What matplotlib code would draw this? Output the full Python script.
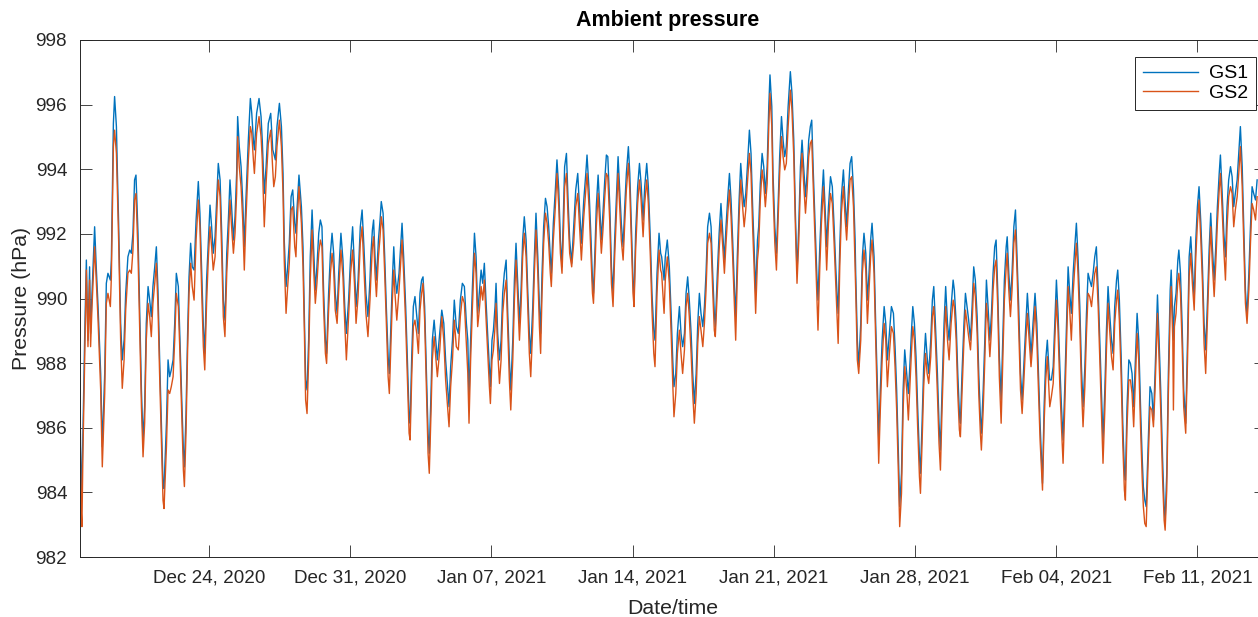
import numpy as np
import pandas as pd
import matplotlib
matplotlib.use("Agg")
import matplotlib.pyplot as plt
import matplotlib.dates as mdates

"Time of each reading, in days after 17 Dec 2020 00:00"
t_days = [
    0.59, 0.67, 0.70, 0.75, 0.84, 0.92, 1.00, 1.08, 1.13, 1.20, 1.33, 1.41, 1.50, 1.63, 1.71, 1.83, 1.91, 1.99, 2.11, 2.16,
    2.26, 2.32, 2.41, 2.46, 2.52, 2.62, 2.70, 2.79, 2.87, 2.98, 3.07, 3.15, 3.23, 3.31, 3.38, 3.48, 3.56, 3.65, 3.73, 3.81,
    3.89, 3.98, 4.06, 4.14, 4.22, 4.31, 4.39, 4.47, 4.55, 4.64, 4.72, 4.77, 4.89, 4.97, 5.05, 5.13, 5.22, 5.30, 5.38,
    5.48, 5.56, 5.65, 5.73, 5.78, 5.86, 5.94, 6.01, 6.09, 6.17, 6.26, 6.36, 6.47, 6.55, 6.64, 6.72, 6.79, 6.88, 6.97, 7.05,
    7.13, 7.21, 7.30, 7.38, 7.46, 7.55, 7.63, 7.71, 7.79, 7.88, 7.96, 8.04, 8.12, 8.21, 8.29, 8.37, 8.42, 8.50, 8.59, 8.67,
    8.75, 8.83, 8.95, 9.05, 9.12, 9.20, 9.25, 9.36, 9.48, 9.58, 9.64, 9.74, 9.83, 9.94, 10.06, 10.16,
    10.21, 10.29, 10.37, 10.49, 10.59, 10.67, 10.73, 10.82, 10.90, 10.98, 11.07, 11.15, 11.25, 11.31, 11.36, 11.46, 11.58, 11.66, 11.73, 11.79,
    11.86, 11.94, 12.02, 12.11, 12.19, 12.27, 12.35, 12.44, 12.52, 12.60, 12.68, 12.77, 12.83, 12.93, 13.02, 13.10, 13.18, 13.26, 13.35, 13.43,
    13.54, 13.64, 13.73, 13.81, 13.92, 14.02, 14.12, 14.21, 14.29, 14.39, 14.50, 14.59, 14.68, 14.78, 14.88, 14.98,
    15.02, 15.10, 15.16, 15.23, 15.30, 15.40, 15.48, 15.54, 15.63, 15.71, 15.79, 15.88, 15.94, 16.02, 16.09, 16.16, 16.22, 16.31, 16.42, 16.50,
    16.57, 16.65, 16.75, 16.83, 16.92, 16.97, 17.05, 17.13, 17.21, 17.30, 17.38, 17.46, 17.54, 17.61, 17.69, 17.78, 17.86, 17.92, 18.01, 18.07,
    18.16, 18.24, 18.32, 18.44, 18.54, 18.64, 18.73, 18.83, 18.90, 18.98, 19.07, 19.16, 19.26, 19.36, 19.46, 19.56, 19.66, 19.76,
    19.83, 19.89, 19.97, 20.06, 20.16, 20.24, 20.32, 20.40, 20.49, 20.57, 20.65, 20.73, 20.82, 20.90, 20.95, 21.03, 21.10, 21.18, 21.23, 21.31,
    21.40, 21.48, 21.56, 21.64, 21.73, 21.81, 21.89, 21.96, 22.06, 22.14, 22.22, 22.30, 22.39, 22.47, 22.55, 22.63, 22.72, 22.80, 22.88, 22.95,
    23.05, 23.13, 23.21, 23.30, 23.38, 23.44, 23.51, 23.59, 23.68, 23.76, 23.84, 23.92, 23.97, 24.07, 24.17, 24.25, 24.34, 24.42, 24.50, 24.58,
    24.63, 24.72, 24.80, 24.88, 24.98, 25.08, 25.18, 25.28, 25.38, 25.46, 25.58, 25.68, 25.74, 25.84, 25.94, 26.01, 26.06, 26.14, 26.20, 26.29,
    26.37, 26.45, 26.53, 26.62, 26.70, 26.77, 26.87, 26.95, 27.03, 27.11, 27.20, 27.28, 27.36, 27.44, 27.53, 27.61, 27.69, 27.79, 27.86, 27.94,
    28.02, 28.07, 28.15, 28.25, 28.34, 28.42, 28.52, 28.60, 28.70, 28.78, 28.88, 28.96, 29.05, 29.11, 29.21, 29.31, 29.39,
    29.44, 29.56, 29.62, 29.72, 29.82, 29.91, 29.99, 30.05, 30.14, 30.22, 30.32, 30.40, 30.48, 30.57, 30.65, 30.73, 30.81, 30.90, 30.98, 31.06,
    31.15, 31.23, 31.31, 31.39, 31.48, 31.56, 31.64, 31.72, 31.81, 31.89, 31.97, 32.05, 32.10, 32.20, 32.29, 32.38, 32.47, 32.55, 32.63, 32.72,
    32.80, 32.88, 32.96, 33.05, 33.11, 33.19, 33.28, 33.36, 33.44, 33.53, 33.61, 33.69, 33.79, 33.87, 33.95, 34.04, 34.10, 34.19,
    34.25, 34.33, 34.42, 34.50, 34.58, 34.67, 34.75, 34.81, 34.90, 34.96, 35.05, 35.13, 35.21, 35.29, 35.38, 35.46, 35.54, 35.62, 35.71, 35.82,
    35.90, 35.99, 36.07, 36.15, 36.24, 36.32, 36.40, 36.48, 36.57, 36.65, 36.73, 36.81, 36.88, 36.96, 37.05, 37.13, 37.19, 37.28, 37.36, 37.46,
    37.54, 37.62, 37.71, 37.81, 37.90, 37.99, 38.07, 38.14, 38.19, 38.27, 38.35, 38.45, 38.53, 38.61, 38.70, 38.78, 38.86, 38.95, 39.03,
    39.06, 39.14, 39.21, 39.31, 39.39, 39.47, 39.56, 39.64, 39.72, 39.80, 39.87, 39.97, 40.05, 40.14, 40.20, 40.28, 40.37, 40.47, 40.55, 40.63,
    40.73, 40.83, 40.93, 41.01, 41.09, 41.18, 41.24, 41.33, 41.41, 41.49, 41.59, 41.67, 41.75, 41.82, 41.89, 41.97, 42.05, 42.13, 42.22, 42.27,
    42.35, 42.43, 42.52, 42.60, 42.68, 42.78, 42.86, 42.93, 43.01, 43.11, 43.19, 43.26, 43.34, 43.44, 43.52, 43.61, 43.69, 43.79, 43.89,
    43.95, 44.04, 44.12, 44.20, 44.25, 44.33, 44.42, 44.50, 44.58, 44.66, 44.75, 44.83, 44.91, 44.99, 45.08, 45.16, 45.24, 45.29, 45.38, 45.46,
    45.54, 45.62, 45.71, 45.79, 45.87, 45.95, 46.02, 46.10, 46.18, 46.27, 46.35, 46.43, 46.52, 46.57, 46.65, 46.73, 46.81, 46.90, 46.98, 47.06,
    47.14, 47.23, 47.31, 47.39, 47.47, 47.57, 47.66, 47.75, 47.85, 47.95, 48.04, 48.12, 48.20, 48.27, 48.32, 48.40, 48.48, 48.56, 48.65,
    48.68, 48.76, 48.85, 48.93, 49.01, 49.09, 49.18, 49.26, 49.34, 49.42, 49.51, 49.59, 49.67, 49.75, 49.84, 49.92, 50.00, 50.08, 50.17, 50.25,
    50.33, 50.42, 50.50, 50.58, 50.66, 50.75, 50.83, 50.91, 50.99, 51.08, 51.16, 51.24, 51.32, 51.41, 51.49, 51.57, 51.65, 51.74, 51.82, 51.90,
    51.99, 52.05, 52.13, 52.22, 52.30, 52.38, 52.43, 52.51, 52.60, 52.68, 52.76, 52.84, 52.93, 53.01, 53.09, 53.18, 53.26, 53.32, 53.39,
    53.46, 53.54, 53.65, 53.74, 53.82, 53.90, 54.02, 54.10, 54.18, 54.27, 54.35, 54.40, 54.48, 54.56, 54.65, 54.70, 54.78, 54.81, 54.86, 54.94,
    55.03, 55.08, 55.16, 55.24, 55.32, 55.42, 55.51, 55.59, 55.67, 55.75, 55.84, 55.92, 56.00, 56.08, 56.17, 56.25, 56.33, 56.41, 56.50, 56.58,
    56.66, 56.74, 56.83, 56.91, 56.99, 57.08, 57.14, 57.22, 57.31, 57.39, 57.47, 57.55, 57.64, 57.72, 57.80, 57.88, 57.97, 58.05, 58.13, 58.22,
    58.30, 58.38, 58.46, 58.55, 58.63, 58.71, 58.79, 58.88, 58.96,
]

"Ambient pressure of GS1 [hPa]"
gs1 = [
    987.37, 983.87, 984.28, 985.83, 988.92, 991.19, 988.71, 990.98, 988.92, 990.16, 992.22, 990.98, 989.75, 987.68, 985.41, 987.68, 990.47, 990.78, 990.57, 991.19,
    995.42, 996.25, 995.32, 993.87, 992.33, 989.23, 988.10, 988.71, 990.16, 991.29, 991.50, 991.40, 992.02, 993.67, 993.82, 992.02, 989.75, 987.17, 985.62, 986.65,
    989.23, 990.37, 989.95, 989.44, 990.37, 990.98, 991.60, 990.26, 988.20, 986.14, 984.28, 984.12, 986.14, 988.10, 987.58, 987.79, 988.10, 989.23, 990.78,
    990.37, 988.71, 986.86, 985.31, 984.79, 986.44, 988.92, 990.67, 991.71, 990.98, 990.88, 992.43, 993.62, 992.64, 990.78, 989.13, 988.30, 990.57, 991.81, 992.89,
    992.22, 991.40, 991.91, 993.05, 994.18, 993.67, 992.02, 989.95, 989.33, 991.40, 992.43, 993.67, 992.84, 991.81, 992.53, 993.87, 995.63, 994.70, 994.08, 993.05,
    991.60, 993.05, 994.90, 996.19, 995.73, 994.90, 994.60, 995.73, 996.19, 995.63, 994.90, 993.25, 994.08, 995.42, 995.73, 994.60,
    994.49, 994.29, 995.32, 996.04, 995.32, 993.87, 991.81, 990.37, 990.98, 991.71, 993.15, 993.36, 992.33, 992.02, 992.74, 993.82, 992.84, 991.60, 989.44, 987.48,
    987.17, 988.71, 991.29, 992.74, 991.50, 990.26, 990.98, 992.02, 992.43, 992.22, 990.26, 988.71, 988.30, 990.16, 991.40, 992.02, 991.40, 990.16, 989.54, 990.78,
    992.02, 991.19, 989.75, 988.92, 989.95, 991.29, 992.22, 990.98, 989.75, 990.57, 992.22, 992.74, 991.60, 990.16, 989.44, 990.57,
    991.29, 992.12, 992.43, 991.29, 990.57, 991.81, 992.43, 993.00, 992.64, 991.29, 989.75, 988.20, 987.68, 989.23, 990.57, 991.60, 990.78, 990.16, 990.78, 991.60,
    992.33, 991.29, 989.75, 988.20, 986.34, 986.14, 988.20, 989.75, 990.06, 989.44, 988.92, 990.16, 990.57, 990.67, 989.75, 987.68, 985.83, 985.21, 987.17, 988.71,
    989.33, 988.71, 988.10, 988.92, 989.64, 989.23, 988.10, 987.27, 986.65, 987.89, 988.71, 989.95, 989.13, 988.92, 989.95, 990.47, 990.37, 989.23,
    988.71, 986.86, 988.71, 990.37, 992.02, 991.29, 989.54, 990.16, 990.88, 990.47, 991.09, 989.95, 988.82, 987.89, 987.27, 988.71, 989.02, 989.75, 990.47, 988.92,
    988.10, 988.71, 990.16, 990.78, 991.19, 989.54, 988.10, 987.17, 988.71, 990.57, 991.71, 990.57, 989.23, 990.26, 991.81, 992.53, 991.81, 990.26, 988.92, 988.30,
    989.75, 991.29, 992.64, 991.29, 989.75, 988.92, 990.78, 992.22, 993.10, 992.84, 992.22, 991.29, 990.78, 992.33, 993.36, 994.29, 993.36, 991.81, 990.98, 992.84,
    994.08, 994.49, 993.05, 991.81, 991.09, 992.22, 993.36, 993.87, 992.64, 991.71, 993.05, 993.87, 994.44, 993.36, 991.81, 990.57, 990.16, 991.60, 992.84, 993.82,
    992.84, 991.81, 992.64, 993.67, 994.44, 994.39, 992.84, 990.98, 990.16, 991.81, 993.15, 994.39, 993.36, 992.33, 991.60, 992.84, 993.87, 994.70, 993.87, 992.22,
    990.57, 989.95, 992.02, 993.46, 994.18, 993.56, 992.43, 993.46, 994.18, 993.46, 991.81, 990.16, 989.02, 988.71, 990.78, 992.02, 991.40,
    991.29, 990.57, 991.29, 991.81, 990.98, 989.54, 988.10, 987.27, 987.68, 988.92, 989.75, 988.92, 988.51, 988.92, 990.16, 990.67, 989.95, 988.92, 987.68, 986.75,
    987.68, 989.23, 990.16, 989.54, 989.13, 989.75, 990.78, 992.22, 992.64, 992.22, 990.78, 989.54, 989.13, 990.78, 992.02, 992.94, 992.02, 991.19, 992.22, 993.15,
    993.87, 993.05, 991.81, 990.26, 989.44, 991.29, 993.05, 994.18, 993.46, 992.84, 993.25, 994.08, 995.21, 994.49, 992.84, 991.29, 990.16, 991.81,
    992.22, 993.56, 994.49, 994.08, 993.25, 994.08, 995.94, 996.92, 995.94, 993.87, 992.22, 991.40, 992.84, 994.39, 995.63, 994.90, 994.39, 994.70, 995.94, 997.02,
    996.35, 994.90, 992.64, 990.78, 992.33, 994.08, 994.90, 994.08, 993.15, 993.87, 994.90, 995.32, 995.52, 993.87, 992.22, 990.78, 989.95, 991.60, 992.84, 993.98,
    992.84, 991.60, 992.84, 993.77, 993.46, 992.22, 990.98, 990.06, 989.54, 991.60, 993.15, 993.98, 993.05, 992.22, 993.36, 994.18, 994.39, 993.36, 991.81,
    990.78, 988.71, 987.89, 989.23, 991.29, 992.02, 991.40, 989.95, 990.78, 991.81, 992.33, 991.29, 989.23, 987.17, 985.62, 987.17, 988.71, 989.75, 989.23, 988.10,
    988.92, 989.75, 989.54, 988.51, 987.17, 985.10, 983.56, 984.59, 987.17, 988.41, 987.68, 987.06, 987.99, 988.92, 989.75, 989.23, 988.20, 986.65, 985.10, 984.59,
    986.14, 987.89, 988.92, 988.20, 987.68, 988.71, 989.95, 990.37, 989.23, 987.68, 986.14, 985.31, 987.17, 989.23, 990.37, 989.23, 988.71, 989.75, 990.57,
    990.26, 989.23, 987.68, 986.44, 986.14, 987.68, 989.13, 990.16, 989.75, 989.33, 988.71, 989.75, 990.98, 990.57, 989.44, 987.68, 986.34, 985.83, 987.17, 988.71,
    990.57, 989.75, 988.71, 989.54, 990.78, 991.60, 991.81, 990.26, 988.20, 986.86, 988.71, 990.57, 991.60, 991.91, 990.78, 989.95, 990.78, 992.22, 992.74, 991.29,
    989.75, 987.68, 986.86, 987.89, 988.92, 990.16, 989.23, 988.20, 989.23, 990.16, 989.23, 987.68, 986.14, 985.10, 984.28, 986.65, 988.10, 988.71, 987.68,
    987.48, 987.48, 987.89, 989.23, 990.57, 989.54, 987.89, 986.65, 985.62, 987.17, 989.23, 990.98, 990.16, 989.54, 990.78, 991.60, 992.33, 991.29, 989.75, 987.89,
    986.65, 987.89, 989.54, 990.78, 990.57, 990.37, 990.78, 991.29, 991.60, 990.26, 988.71, 987.17, 985.62, 987.17, 989.02, 990.37, 989.54, 988.71, 988.30, 989.75,
    990.57, 990.88, 989.95, 988.20, 986.14, 984.69, 984.38, 986.65, 988.10, 987.99, 987.68, 986.65, 988.20, 989.54, 988.71, 986.65, 985.10, 984.18, 983.76,
    983.56, 985.10, 987.27, 987.06, 986.24, 987.68, 990.11, 988.71, 987.17, 985.10, 983.56, 983.14, 984.59, 987.68, 990.26, 990.88, 989.23, 988.71, 989.75, 990.16,
    991.19, 991.50, 990.78, 989.23, 987.17, 986.14, 988.71, 991.29, 991.91, 990.98, 989.95, 991.81, 992.84, 993.46, 992.33, 990.98, 989.23, 988.41, 989.95, 991.50,
    992.64, 991.60, 990.57, 991.60, 992.84, 993.87, 994.44, 993.36, 992.02, 991.29, 992.84, 993.67, 994.08, 993.77, 992.84, 993.25, 993.67, 994.49, 995.32, 994.08,
    992.22, 990.26, 989.44, 990.78, 992.22, 993.46, 993.25, 993.05, 993.67,
]

"Ambient pressure of GS2 [hPa]"
gs2 = [
    986.65, 983.35, 982.94, 985.21, 988.20, 990.88, 988.51, 990.57, 988.51, 989.75, 991.60, 990.57, 989.33, 987.17, 984.79, 987.06, 989.85, 990.16, 989.75, 990.67,
    994.70, 995.21, 994.49, 993.25, 991.81, 988.71, 987.22, 988.10, 989.64, 990.78, 990.88, 990.78, 991.50, 993.05, 993.25, 991.40, 989.13, 986.65, 985.10, 986.14,
    988.71, 989.85, 989.44, 988.82, 989.85, 990.47, 991.09, 989.75, 987.68, 985.62, 983.76, 983.50, 985.41, 987.17, 987.06, 987.27, 987.58, 988.71, 990.16,
    989.75, 988.30, 986.34, 984.69, 984.18, 985.83, 988.41, 990.16, 991.09, 990.37, 989.95, 991.81, 993.05, 992.22, 990.16, 988.51, 987.79, 989.85, 991.29, 992.22,
    991.60, 990.88, 991.29, 992.53, 993.67, 993.15, 991.40, 989.44, 988.82, 990.78, 991.81, 993.05, 992.22, 991.40, 992.02, 993.25, 995.01, 994.08, 993.46, 992.43,
    990.88, 992.43, 994.29, 995.32, 995.11, 994.29, 993.87, 995.11, 995.63, 995.01, 994.29, 992.22, 993.56, 994.80, 995.21, 993.98,
    993.46, 993.77, 994.70, 995.52, 994.70, 993.25, 991.19, 989.54, 990.37, 991.09, 992.74, 992.84, 991.60, 991.29, 992.22, 993.46, 992.33, 990.98, 988.92, 986.86,
    986.44, 988.10, 990.57, 992.12, 990.88, 989.85, 990.47, 991.40, 991.81, 991.60, 989.75, 988.30, 987.99, 989.64, 990.78, 991.40, 990.88, 989.64, 989.23, 990.26,
    991.50, 990.67, 989.23, 988.10, 989.44, 990.78, 991.50, 990.47, 989.23, 990.06, 991.71, 992.22, 990.98, 989.54, 988.82, 989.95,
    990.57, 991.60, 991.91, 990.78, 990.06, 991.29, 991.91, 992.53, 992.12, 990.78, 989.23, 987.58, 987.06, 988.61, 989.95, 990.88, 990.16, 989.33, 990.26, 991.09,
    991.81, 990.78, 989.23, 987.68, 985.83, 985.62, 987.58, 989.13, 989.33, 988.92, 988.30, 989.64, 990.16, 990.47, 989.33, 987.17, 985.21, 984.59, 986.55, 988.10,
    988.82, 988.20, 987.58, 988.41, 989.44, 988.71, 987.48, 986.65, 986.03, 987.27, 988.10, 989.33, 988.51, 988.41, 989.44, 990.06, 989.85, 988.61,
    987.68, 986.14, 988.10, 989.75, 991.40, 990.78, 989.13, 989.64, 990.37, 989.95, 990.57, 989.44, 988.30, 987.27, 986.75, 988.10, 988.41, 989.13, 989.85, 988.41,
    987.37, 988.10, 989.54, 990.16, 990.57, 989.02, 987.48, 986.55, 988.10, 989.95, 991.19, 990.06, 988.71, 989.75, 991.29, 992.02, 991.29, 989.75, 988.30, 987.58,
    989.13, 990.78, 992.12, 990.78, 989.13, 988.30, 990.16, 991.71, 992.64, 992.33, 991.71, 990.78, 990.37, 991.81, 992.84, 993.87, 992.84, 991.40, 990.78, 992.22,
    993.46, 993.87, 992.53, 991.40, 990.98, 991.71, 992.84, 993.25, 992.12, 991.19, 992.53, 993.36, 993.87, 992.84, 991.29, 990.16, 989.85, 991.09, 992.22, 993.25,
    992.33, 991.40, 992.12, 993.15, 993.87, 993.77, 992.33, 990.47, 989.75, 991.29, 992.64, 993.87, 992.84, 991.81, 991.19, 992.33, 993.36, 994.18, 993.36, 991.71,
    990.16, 989.75, 991.50, 992.94, 993.67, 993.05, 991.91, 992.94, 993.67, 992.94, 991.29, 989.64, 988.30, 987.89, 990.16, 991.50, 990.88,
    990.78, 989.54, 990.57, 991.29, 990.47, 988.92, 987.37, 986.34, 987.06, 988.30, 989.02, 988.30, 987.68, 988.41, 989.75, 990.16, 989.44, 988.30, 987.06, 986.14,
    987.06, 988.61, 989.44, 989.02, 988.51, 989.23, 990.26, 991.71, 992.02, 991.71, 990.26, 989.02, 988.82, 990.26, 991.50, 992.43, 991.60, 990.78, 991.71, 992.64,
    993.36, 992.53, 991.29, 989.75, 988.71, 990.67, 992.53, 993.67, 992.94, 992.22, 992.74, 993.56, 994.49, 993.87, 992.22, 990.67, 989.54, 991.19,
    991.60, 993.05, 993.98, 993.56, 992.84, 993.56, 995.32, 996.35, 995.32, 993.36, 991.71, 990.88, 992.33, 993.87, 995.01, 994.39, 993.98, 994.18, 995.32, 996.45,
    995.83, 994.39, 992.22, 990.47, 991.81, 993.56, 994.49, 993.56, 992.64, 993.36, 994.39, 994.80, 994.90, 993.36, 991.71, 990.16, 989.02, 990.98, 992.33, 993.46,
    992.33, 990.88, 992.33, 993.25, 992.94, 991.71, 990.47, 989.44, 988.61, 990.98, 992.64, 993.46, 992.53, 991.81, 992.84, 993.67, 993.77, 992.84, 990.98,
    990.26, 988.10, 987.68, 988.71, 990.78, 991.50, 990.88, 989.23, 990.26, 991.29, 991.81, 990.78, 988.71, 986.55, 984.90, 986.55, 988.10, 989.23, 988.71, 987.27,
    988.30, 989.13, 988.92, 987.89, 986.55, 984.48, 982.94, 983.97, 986.55, 987.89, 987.17, 986.24, 987.37, 988.30, 989.13, 988.71, 987.58, 986.03, 984.48, 983.97,
    985.52, 987.27, 988.30, 987.68, 987.37, 988.20, 989.44, 989.75, 988.71, 987.06, 985.52, 984.69, 986.55, 988.61, 989.75, 988.71, 988.10, 989.23, 989.95,
    989.75, 988.71, 987.06, 985.93, 985.72, 987.06, 988.61, 989.64, 989.23, 988.82, 988.41, 989.23, 990.47, 990.06, 988.92, 987.06, 985.83, 985.31, 986.55, 988.10,
    989.85, 989.23, 988.20, 989.02, 990.26, 990.98, 991.19, 989.75, 987.58, 986.14, 988.10, 989.95, 990.98, 991.40, 990.26, 989.44, 990.26, 991.71, 992.12, 990.78,
    989.13, 987.17, 986.44, 987.37, 988.41, 989.54, 988.71, 987.89, 988.71, 989.75, 988.71, 987.17, 985.62, 984.69, 984.07, 986.14, 987.48, 988.20, 987.06,
    986.65, 986.96, 987.37, 988.71, 989.95, 989.02, 987.27, 986.03, 984.90, 986.55, 988.61, 990.37, 989.64, 988.71, 990.16, 990.98, 991.71, 990.78, 989.13, 987.27,
    986.03, 987.27, 988.92, 990.16, 990.06, 989.75, 990.26, 990.78, 990.98, 989.75, 988.10, 986.55, 984.90, 986.55, 988.41, 989.85, 989.02, 988.20, 987.79, 989.23,
    989.95, 990.26, 989.33, 987.58, 985.52, 984.07, 983.76, 986.03, 987.48, 987.48, 987.06, 986.03, 987.58, 988.92, 988.10, 986.03, 984.48, 983.56, 983.04,
    982.94, 984.59, 986.65, 986.55, 986.03, 987.17, 989.54, 988.10, 986.55, 984.48, 983.14, 982.83, 984.07, 987.06, 989.64, 990.37, 988.71, 986.55, 989.13, 989.54,
    990.57, 990.78, 990.16, 988.61, 986.65, 985.83, 988.10, 990.67, 991.40, 990.47, 989.64, 991.29, 992.33, 993.05, 991.81, 990.47, 988.61, 987.68, 989.44, 990.98,
    992.22, 991.09, 990.06, 991.09, 992.33, 993.36, 993.87, 992.84, 991.50, 990.57, 992.22, 993.15, 993.46, 993.25, 992.22, 992.74, 993.15, 993.87, 994.70, 993.46,
    991.71, 989.85, 989.23, 990.26, 991.71, 992.94, 992.74, 992.43, 993.15,
]

series_names = ["GS1", "GS2"]
series_colors = ["#0072BD", "#D95319"]
tick_dates = ["2020-12-24", "2020-12-31", "2021-01-07", "2021-01-14",
              "2021-01-21", "2021-01-28", "2021-02-04", "2021-02-11"]
y_ticks = [982, 984, 986, 988, 990, 992, 994, 996, 998]

"Convert to datetimes"
t0 = pd.Timestamp("2020-12-17")
time = t0 + pd.to_timedelta(np.array(t_days), unit="D")

plt.rcParams['font.family'] = ['Liberation Sans', 'DejaVu Sans']
txt_col = '#262626'

W, H = 1258, 617
fig = plt.figure(figsize=(W/100., H/100.), dpi=100)
"axes box in pixels; right edge lies past the picture edge"
left, right, top, bottom = 79.7, 1266., 40., 557.
ax = fig.add_axes([left/W, 1-bottom/H, (right-left)/W, (bottom-top)/H])

ax.plot(time, gs1, color=series_colors[0], lw=1.0, label=series_names[0])
ax.plot(time, gs2, color=series_colors[1], lw=1.0, label=series_names[1])

ax.set_xlim(t0 + pd.Timedelta(days=0.59), t0 + pd.Timedelta(days=59.40))
ax.set_ylim(982, 998)
ax.set_yticks(y_ticks)
ax.set_xticks(pd.to_datetime(tick_dates))
ax.xaxis.set_major_formatter(mdates.DateFormatter('%b %d, %Y'))

ax.tick_params(direction='in', length=8.6, width=0.6, colors=txt_col,
               labelsize=13.6, top=True, right=True, pad=9)
for s in ax.spines.values():
    s.set_color(txt_col)
    s.set_linewidth(0.7)

ax.set_xlabel("Date/time", fontsize=15.3, color=txt_col, labelpad=9)
ax.set_ylabel("Pressure (hPa)", fontsize=15.3, color=txt_col, labelpad=3)
ax.set_title("Ambient pressure", fontsize=15.5, fontweight='bold', pad=10, x=0.496)

leg = ax.legend(loc='upper right', bbox_to_anchor=(1256./W, 1-57./H),
                bbox_transform=fig.transFigure, fontsize=14, handlelength=2.85,
                handletextpad=0.55, borderpad=0.4, labelspacing=0.1,
                borderaxespad=0, fancybox=False, framealpha=1)
leg.get_frame().set_edgecolor(txt_col)
leg.get_frame().set_linewidth(0.7)

plt.savefig('out.png', dpi=100)
